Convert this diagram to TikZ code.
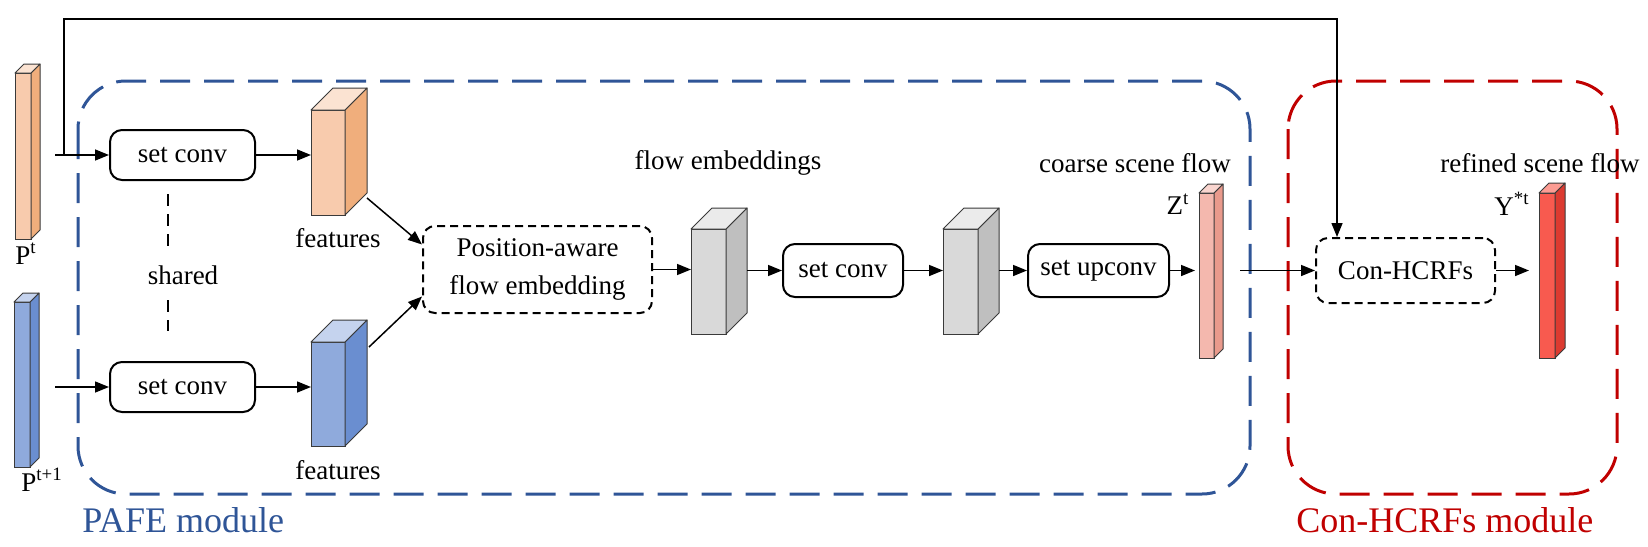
\documentclass[tikz,border=0pt]{standalone}
\usepackage{fontspec}
\setmainfont{Liberation Serif}
\usetikzlibrary{arrows.meta,calc}
\definecolor{pafeblue}{HTML}{2F5597}
\definecolor{hcred}{HTML}{C00000}
\definecolor{edgec}{HTML}{3A3A3A}
\definecolor{orF}{HTML}{F8CBAD}\definecolor{orS}{HTML}{F0AE7C}\definecolor{orT}{HTML}{FBE3D2}
\definecolor{blF}{HTML}{8FAADC}\definecolor{blS}{HTML}{6A8ED0}\definecolor{blT}{HTML}{C5D3EE}
\definecolor{grF}{HTML}{D9D9D9}\definecolor{grS}{HTML}{BFBFBF}\definecolor{grT}{HTML}{EBEBEB}
\definecolor{zF}{HTML}{F4B8AE}\definecolor{zS}{HTML}{E99A8C}\definecolor{zT}{HTML}{F9D5CF}
\definecolor{yF}{HTML}{F85A4F}\definecolor{yS}{HTML}{DC3A30}\definecolor{yT}{HTML}{FC9C93}
% name, x, y, w, h, depth, front, side, top
\newcommand\mycuboid[9]{%
  \node[draw=edgec, fill=#7, anchor=north west, minimum width=#4, minimum height=#5,
        inner sep=0pt, outer sep=0pt, line width=0.5pt] (#1) at (#2,#3) {};
  \filldraw[fill=#8, draw=edgec, line width=0.5pt, line join=round]
    (#1.north east) -- ++(#6,-#6) -- ([shift={(#6,-#6)}]#1.south east) -- (#1.south east) -- cycle;
  \filldraw[fill=#9, draw=edgec, line width=0.5pt, line join=round]
    (#1.north west) -- ++(#6,-#6) -- ([shift={(#6,-#6)}]#1.north east) -- (#1.north east) -- cycle;
}
\begin{document}
\begin{tikzpicture}[x=0.5pt,y=-0.5pt,
  font=\fontsize{13.5}{19}\selectfont,
  box/.style={draw, line width=1pt, rounded corners=6pt, inner sep=0pt, align=center},
  dbox/.style={box, dash pattern=on 4pt off 2.5pt},
  arr/.style={-{Triangle[length=7pt,width=5.5pt]}, line width=0.75pt},
  modbox/.style={line width=1.5pt, rounded corners=24pt, dash pattern=on 15pt off 7pt},
  shareline/.style={line width=0.6pt, dash pattern=on 6pt off 4pt},
  lbl/.style={inner sep=0pt}
]
\useasboundingbox (0,0) rectangle (1648,546);

% module frames
\draw[modbox, pafeblue] (78,81) rectangle (1250,494);
\draw[modbox, hcred] (1288,81) rectangle (1617,494);
\node[lbl, anchor=west, text=pafeblue, font=\fontsize{18}{22}\selectfont] (pafelbl) at (82,520) {PAFE module};
\node[lbl, anchor=west, text=hcred, font=\fontsize{18}{22}\selectfont] (hclbl) at (1296,520) {Con-HCRFs module};

% inputs
\mycuboid{pt}{15}{73}{8pt}{83pt}{9}{orF}{orS}{orT}
\mycuboid{pt1}{14}{302}{8pt}{82.5pt}{9}{blF}{blS}{blT}
\node[lbl, anchor=base west] (ptl) at (15,264) {P\textsuperscript{t}};
\node[lbl, anchor=base west] (pt1l) at (21,491) {P\textsuperscript{t+1}};

% set conv boxes
\node[box, minimum width=72.5pt, minimum height=25pt] (sc1) at (182.5,155) {set conv};
\node[box, minimum width=72.5pt, minimum height=25pt] (sc2) at (182.5,387) {set conv};
\node[lbl] (shared) at (183,275) {shared};
\coordinate (da) at (168,194); \coordinate (db) at (168,252);
\coordinate (dc) at (168,300); \coordinate (dd) at (168,331);
\draw[shareline] (da) -- (db);
\draw[shareline] (dc) -- (dd);

% features
\mycuboid{ft}{311}{110}{17pt}{52.5pt}{22}{orF}{orS}{orT}
\mycuboid{fb}{311}{342}{17pt}{52pt}{22}{blF}{blS}{blT}
\node[lbl] (ftl) at (338,238) {features};
\node[lbl] (fbl) at (338,470) {features};

% PAFE
\node[dbox, minimum width=114.5pt, minimum height=43.5pt] (pafe) at (537.5,269.5) {Position-aware\\flow embedding};

% gray cuboids
\mycuboid{g1}{691}{229}{17.5pt}{52.5pt}{21}{grF}{grS}{grT}
\mycuboid{g2}{943}{229}{17.5pt}{52.5pt}{21}{grF}{grS}{grT}
\node[box, minimum width=60pt, minimum height=26.5pt] (sc3) at (843,270.5) {set conv};
\node[box, minimum width=70.5pt, minimum height=26.5pt] (up) at (1098.5,270.5) {set upconv};

% Z and Y
\mycuboid{zb}{1199}{193}{7.5pt}{82.5pt}{9}{zF}{zS}{zT}
\node[box, dbox, minimum width=89.5pt, minimum height=32.5pt] (hc) at (1405.5,270.5) {Con-HCRFs};
\mycuboid{yb}{1539}{193}{8pt}{82.5pt}{10}{yF}{yS}{yT}
\node[lbl] (zl) at (1178,204) {Z\textsuperscript{t}};
\node[lbl] (yl) at (1512,204) {Y\textsuperscript{*t}};

% titles
\node[lbl] (fel) at (728,163) {flow embeddings};
\node[lbl] (csl) at (1135,163) {coarse scene flow};
\node[lbl] (rsl) at (1540,163) {refined scene flow};

% connectors
\coordinate (s1) at (55,155); \coordinate (jn) at (64,155);
\coordinate (tl) at (64,19); \coordinate (tr) at (1337,19);
\coordinate (s2) at (55,387);
\draw[arr] (s1) -- (sc1.west);
\draw[arr] (s2) -- (sc2.west);
\draw[arr, line join=miter] (jn) -- (tl) -- (tr) -- (tr |- hc.north);
\draw[arr] (sc1.east) -- (sc1.east -| ft.west);
\draw[arr] (sc2.east) -- (sc2.east -| fb.west);
\draw[arr] ($(ft.south east)+(22,-17)$) -- ($(pafe.west)+(0,-25)$);
\draw[arr] ($(fb.north east)+(24,5)$) -- ($(pafe.west)+(0,27)$);
\draw[arr] (pafe.east) -- (pafe.east -| g1.west);
\path ($(g1.north east)+(21,0)$) coordinate (g1r);
\path ($(g2.north east)+(21,0)$) coordinate (g2r);
\path ($(zb.north east)+(26,0)$) coordinate (zr);
\draw[arr] (g1r |- sc3.west) -- (sc3.west);
\draw[arr] (sc3.east) -- (sc3.east -| g2.west);
\draw[arr] (g2r |- up.west) -- (up.west);
\draw[arr, shorten >=2pt] (up.east) -- (up.east -| zb.west);
\draw[arr] (zr |- hc.west) -- (hc.west);
\draw[arr, shorten >=5pt] (hc.east) -- (hc.east -| yb.west);
\end{tikzpicture}
\end{document}
